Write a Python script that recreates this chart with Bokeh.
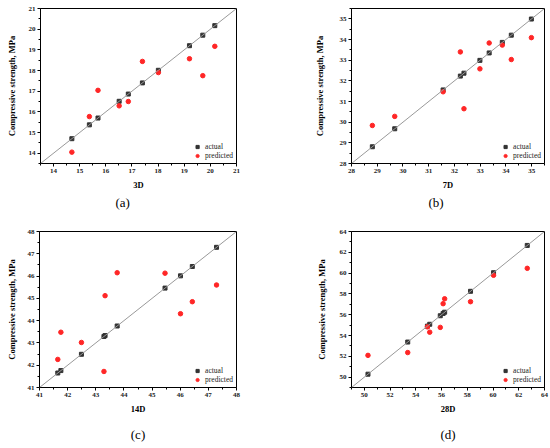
from bokeh.plotting import figure
from bokeh.layouts import column, row
from bokeh.models import Range1d, FixedTicker, Slope, Legend, Title, LinearAxis
from bokeh.embed import file_html
from bokeh.resources import INLINE

# ---- data ----
# (a) 3D
a_actual = [14.70, 15.37, 15.70, 16.51, 16.86, 17.40, 18.01, 19.20, 19.71, 20.17]
a_pred = [14.05, 15.77, 17.04, 16.29, 16.50, 18.44, 17.90, 18.57, 17.75, 19.17]
a_ticks = [14, 15, 16, 17, 18, 19, 20, 21]
# (b) 7D
b_actual = [28.81, 29.68, 31.56, 32.23, 32.37, 32.99, 33.35, 33.86, 34.21, 34.99]
b_pred = [29.84, 30.28, 31.47, 33.40, 30.65, 32.58, 33.83, 33.73, 33.03, 34.09]
b_ticks = [28, 29, 30, 31, 32, 33, 34, 35]
# (c) 14D
c_actual = [41.65, 41.76, 42.49, 43.29, 43.33, 43.76, 45.46, 46.01, 46.43, 47.29]
c_pred = [42.26, 43.48, 43.02, 41.72, 45.12, 46.15, 46.13, 44.31, 44.85, 45.60]
c_ticks = [41, 42, 43, 44, 45, 46, 47, 48]
# (d) 28D
d_actual = [50.28, 53.37, 54.90, 55.08, 55.90, 56.12, 56.24, 58.25, 60.04, 62.66]
d_pred = [52.09, 52.36, 54.83, 54.32, 54.78, 57.06, 57.53, 57.25, 59.79, 60.46]
d_ticks = [50, 52, 54, 56, 58, 60, 62, 64]

SERIF = "Liberation Serif"


def panel(actual, pred, lo, hi, ticks, minor, xlabel, w, h, borders, ystand):
    left, right, top, bottom = borders
    p = figure(width=w, height=h, output_backend="svg", toolbar_location=None,
               x_range=Range1d(lo, hi), y_range=Range1d(lo, hi),
               min_border_left=left, min_border_right=right,
               min_border_top=top, min_border_bottom=bottom)
    p.xgrid.visible = False
    p.ygrid.visible = False
    p.outline_line_color = "black"
    p.outline_line_width = 1
    p.outline_line_alpha = 1
    p.background_fill_color = "white"
    p.border_fill_color = "white"

    for ax in (p.xaxis[0], p.yaxis[0]):
        ax.ticker = FixedTicker(ticks=ticks, minor_ticks=minor)
        ax.axis_line_color = "black"
        ax.major_tick_in = 0
        ax.major_tick_out = 3
        ax.minor_tick_in = 0
        ax.minor_tick_out = 2
        ax.major_tick_line_color = "black"
        ax.minor_tick_line_color = "black"
        ax.major_label_text_font = SERIF
        ax.major_label_text_font_size = "7px"
        ax.major_label_text_font_style = "bold"
        ax.major_label_text_color = "#222222"
        ax.major_label_standoff = 2
        ax.axis_label_text_font = SERIF
        ax.axis_label_text_font_size = "8.5px"
        ax.axis_label_text_font_style = "bold"
        ax.axis_label_text_color = "black"
    p.xaxis.axis_label_standoff = 4
    p.yaxis.axis_label_standoff = ystand
    p.xaxis.axis_label = xlabel
    p.yaxis.axis_label = "Compressive strength, MPa"

    p.add_layout(Slope(gradient=1, y_intercept=0, line_color="#999999", line_width=1))

    r1 = p.scatter(actual, actual, marker="square", size=4, fill_color="#333333",
                   line_color="#333333")
    r2 = p.scatter(actual, pred, marker="circle", size=4.5, fill_color="#ff2626",
                   line_color="#ff2626")

    leg = Legend(items=[("actual", [r1]), ("predicted", [r2])], location="bottom_right",
                 border_line_alpha=0, background_fill_alpha=0,
                 label_text_font=SERIF, label_text_font_size="7.5px",
                 label_text_color="#222222",
                 glyph_height=9, glyph_width=8, label_height=9, spacing=0,
                 padding=1, margin=2, label_standoff=4)
    p.add_layout(leg)
    return p


def tag_title(p, tag, off):
    p.add_layout(Title(text=tag, align="left", offset=off, text_font=SERIF,
                       text_font_size="13px", text_font_style="normal",
                       text_color="black", standoff=0), "below")


def tag_axis(p, tag, bounds, standoff):
    ax = LinearAxis(ticker=FixedTicker(ticks=[]), bounds=bounds, axis_label=tag,
                    axis_label_standoff=standoff, axis_label_text_font=SERIF,
                    axis_label_text_font_size="13px", axis_label_text_font_style="normal",
                    axis_label_text_color="black", axis_line_alpha=0,
                    major_tick_out=0, major_tick_in=0, minor_tick_out=0, minor_tick_in=0,
                    major_label_standoff=0)
    p.add_layout(ax, "below")


pa = panel(a_actual, a_pred, 13.5, 21, a_ticks, [13.5 + i for i in range(8)], "3D",
           275, 224, (40, 39, 8, 58), 9)
tag_title(pa, "(a)", 75)
pb = panel(b_actual, b_pred, 28, 35.5, b_ticks, [28.5 + i for i in range(8)], "7D",
           274, 224, (76, 5, 5, 61), 12)
tag_title(pb, "(b)", 77)
pc = panel(c_actual, c_pred, 41, 48, c_ticks, [41.5 + i for i in range(7)], "14D",
           275, 223, (39, 39, 7, 58), 8)
tag_axis(pc, "(c)", (43.9, 44.1), 10)
pd = panel(d_actual, d_pred, 49, 64, d_ticks, [49 + 2 * i for i in range(8)], "28D",
           274, 223, (76, 5, 6, 60), 10)
tag_axis(pd, "(d)", (55.6, 55.8), 10)

layout = column(row(pa, pb), row(pc, pd))
open("out.html", "w").write(file_html(layout, INLINE))
